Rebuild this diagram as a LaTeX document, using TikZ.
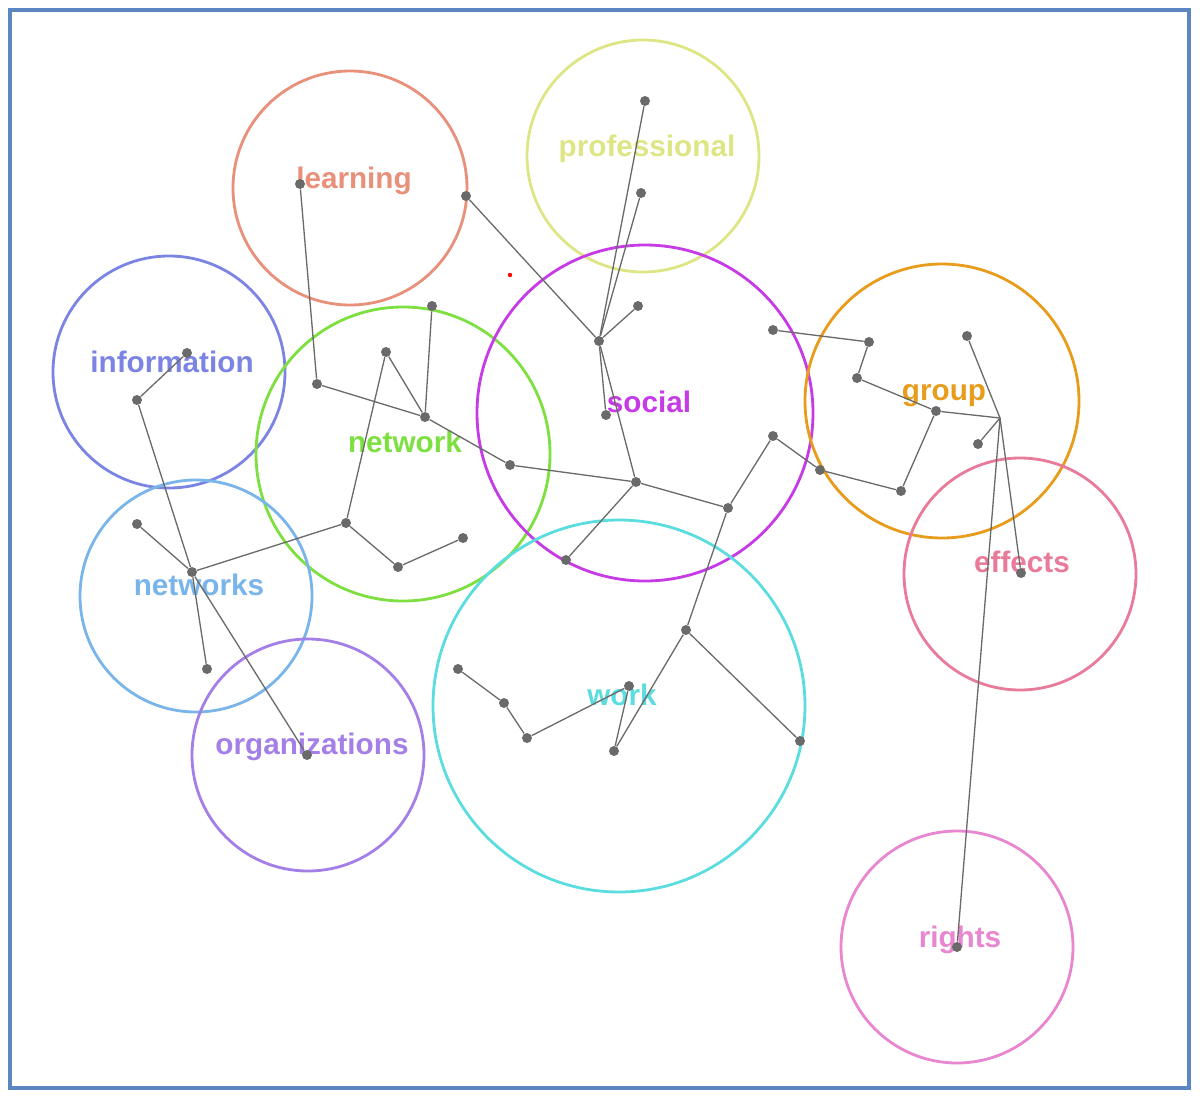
\documentclass[tikz,border=0pt]{standalone}
\usepackage{fontspec}
\setmainfont{Liberation Sans}
\usepackage{tikz}
\usetikzlibrary{positioning}
\definecolor{frameBlue}{HTML}{5B86C1}
\definecolor{edgeGray}{HTML}{6A6A6A}
\definecolor{cLearning}{HTML}{E8907A}
\definecolor{cProfessional}{HTML}{DDE585}
\definecolor{cInformation}{HTML}{7B84E3}
\definecolor{cNetwork}{HTML}{7EE040}
\definecolor{cSocial}{HTML}{C63BE5}
\definecolor{cGroup}{HTML}{E89C1C}
\definecolor{cEffects}{HTML}{E87A9A}
\definecolor{cNetworks}{HTML}{79B5EA}
\definecolor{cOrganizations}{HTML}{A57FE8}
\definecolor{cWork}{HTML}{5BDDE0}
\definecolor{cRights}{HTML}{E886CF}
\tikzstyle{solidNode} = [circle, inner sep=0pt, minimum size=0.2cm, fill=edgeGray]
\tikzstyle{link} = [draw=edgeGray, line width=0.75pt]
\tikzstyle{topic} = [line width=1.6pt]
\tikzstyle{word} = [anchor=base, inner sep=0pt, font=\fontsize{16.9}{20}\selectfont\bfseries]

\begin{document}
\begin{tikzpicture}[x=0.02cm, y=-0.02cm]
                    \useasboundingbox (0,0) rectangle (1200,1102);
                    \draw [frameBlue, line width=2pt] (10,10) rectangle (1189,1088);
                    % topic circles
                    \draw [topic, cLearning] (350,188) circle (117);
                    \draw [topic, cProfessional] (643,156) circle (116);
                    \draw [topic, cInformation] (169,372) circle (116);
                    \draw [topic, cNetwork] (403,454) circle (147);
                    \draw [topic, cSocial] (645,413) circle (168);
                    \draw [topic, cGroup] (942,401) circle (137);
                    \draw [topic, cEffects] (1020,574) circle (116);
                    \draw [topic, cNetworks] (196,596) circle (116);
                    \draw [topic, cOrganizations] (308,755) circle (116);
                    \draw [topic, cWork] (619,706) circle (186);
                    \draw [topic, cRights] (957,947) circle (116);
                    % labels
                    \node (learning) [word, text=cLearning] at (354,188) {learning};
                    \node (professional) [word, text=cProfessional] at (647,156) {professional};
                    \node (information) [word, text=cInformation] at (172,372) {information};
                    \node (network) [word, text=cNetwork] at (405,452) {network};
                    \node (social) [word, text=cSocial] at (649,412) {social};
                    \node (group) [word, text=cGroup] at (944,400) {group};
                    \node (effects) [word, text=cEffects] at (1022,572) {effects};
                    \node (networks) [word, text=cNetworks] at (199,595) {networks};
                    \node (organizations) [word, text=cOrganizations] at (312,754) {organizations};
                    \node (work) [word, text=cWork] at (622,705) {work};
                    \node (rights) [word, text=cRights] at (960,947) {rights};
                    % points
                    \node (i1) [solidNode] at (187,353) {};
                    \node (i2) [solidNode] at (137,400) {};
                    \node (n0) [solidNode] at (192,572) {};
                    \node (n1) [solidNode] at (137,524) {};
                    \node (n2) [solidNode] at (207,669) {};
                    \node (n3) [solidNode] at (307,755) {};
                    \node (w1) [solidNode] at (346,523) {};
                    \node (w2) [solidNode] at (398,567) {};
                    \node (w3) [solidNode] at (463,538) {};
                    \node (w4) [solidNode] at (386,352) {};
                    \node (w5) [solidNode] at (425,417) {};
                    \node (w6) [solidNode] at (432,306) {};
                    \node (w7) [solidNode] at (317,384) {};
                    \node (w8) [solidNode] at (510,465) {};
                    \node (l1) [solidNode] at (300,184) {};
                    \node (l2) [solidNode] at (466,196) {};
                    \node (p1) [solidNode] at (645,101) {};
                    \node (p2) [solidNode] at (641,193) {};
                    \node (s1) [solidNode] at (599,341) {};
                    \node (s2) [solidNode] at (638,306) {};
                    \node (s3) [solidNode] at (606,415) {};
                    \node (s4) [solidNode] at (636,482) {};
                    \node (s5) [solidNode] at (566,560) {};
                    \node (s6) [solidNode] at (728,508) {};
                    \node (s7) [solidNode] at (773,436) {};
                    \node (s8) [solidNode] at (773,330) {};
                    \node (g1) [solidNode] at (820,470) {};
                    \node (g2) [solidNode] at (869,342) {};
                    \node (g3) [solidNode] at (857,378) {};
                    \node (g4) [solidNode] at (936,411) {};
                    \coordinate (g5) at (1000,418);
                    \node (g6) [solidNode] at (967,336) {};
                    \node (g7) [solidNode] at (978,444) {};
                    \node (g8) [solidNode] at (901,491) {};
                    \node (e1) [solidNode] at (1021,573) {};
                    \node (r1) [solidNode] at (957,947) {};
                    \node (k0) [solidNode] at (686,630) {};
                    \node (k1) [solidNode] at (458,669) {};
                    \node (k2) [solidNode] at (504,703) {};
                    \node (k3) [solidNode] at (527,738) {};
                    \node (k4) [solidNode] at (629,686) {};
                    \node (k5) [solidNode] at (614,751) {};
                    \node (k6) [solidNode] at (800,741) {};
                    \node (speck) [circle, inner sep=0pt, minimum size=2.5pt, fill=red] at (510,275) {};
                    % links
                    \draw [link] (i1) -- (i2) -- (n0);
                    \draw [link] (n1) -- (n0) -- (n2);
                    \draw [link] (n0) -- (n3);
                    \draw [link] (n0) -- (w1) -- (w2) -- (w3);
                    \draw [link] (w1) -- (w4) -- (w5) -- (w6);
                    \draw [link] (l1) -- (w7) -- (w5) -- (w8) -- (s4);
                    \draw [link] (l2) -- (s1);
                    \draw [link] (p1) -- (s1);
                    \draw [link] (p2) -- (s1);
                    \draw [link] (s2) -- (s1) -- (s3);
                    \draw [link] (s1) -- (s4) -- (s5);
                    \draw [link] (s4) -- (s6) -- (s7) -- (g1) -- (g8) -- (g4);
                    \draw [link] (s6) -- (k0) -- (k6);
                    \draw [link] (s8) -- (g2) -- (g3) -- (g4) -- (g5);
                    \draw [link] (g6) -- (g5) -- (g7);
                    \draw [link] (g5) -- (e1);
                    \draw [link] (g5) -- (r1);
                    \draw [link] (k1) -- (k2) -- (k3) -- (k4) -- (k5) -- (k0);
                \end{tikzpicture}
\end{document}
